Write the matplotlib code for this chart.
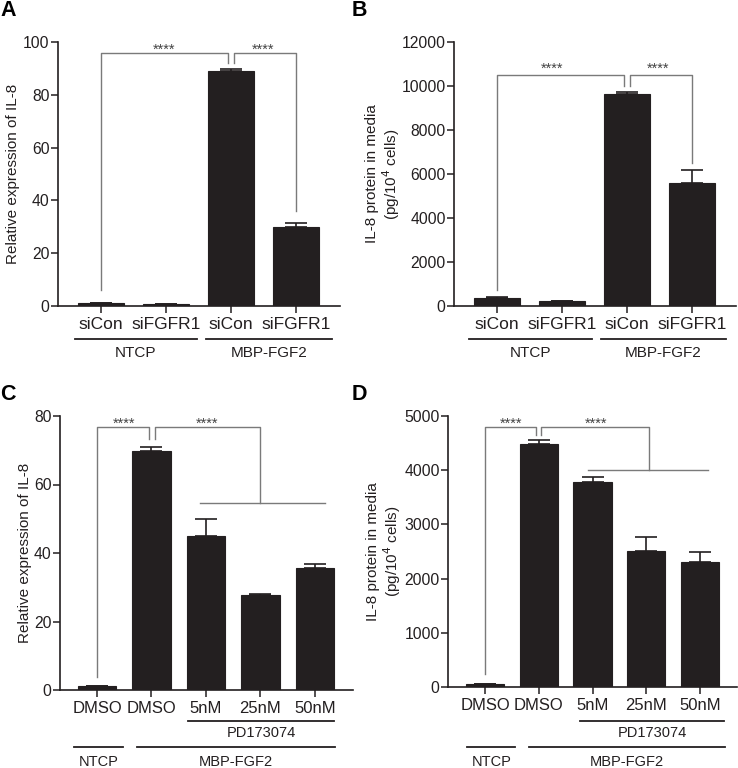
import matplotlib
matplotlib.use("Agg")
import matplotlib.pyplot as plt

plt.rcParams['font.family'] = ['Liberation Sans', 'DejaVu Sans']

# ---------------- data ----------------
a_labels = ["siCon", "siFGFR1", "siCon", "siFGFR1"]
a_values = [1.2, 0.7, 89.0, 30.0]
a_errors = [0.1, 0.1, 0.8, 1.5]

b_labels = ["siCon", "siFGFR1", "siCon", "siFGFR1"]
b_values = [380, 230, 9620, 5600]
b_errors = [10, 10, 130, 590]

c_labels = ["DMSO", "DMSO", "5nM", "25nM", "50nM"]
c_values = [1.2, 69.8, 45.0, 27.6, 35.7]
c_errors = [0.1, 1.2, 4.8, 0.3, 1.0]

d_labels = ["DMSO", "DMSO", "5nM", "25nM", "50nM"]
d_values = [55, 4480, 3775, 2515, 2305]
d_errors = [5, 85, 95, 250, 185]

a_yticks = [0, 20, 40, 60, 80, 100]
b_yticks = [0, 2000, 4000, 6000, 8000, 10000, 12000]
c_yticks = [0, 20, 40, 60, 80]
d_yticks = [0, 1000, 2000, 3000, 4000, 5000]

ylabel_ac = "Relative expression of IL-8"
ylabel_bd = "IL-8 protein in media\n(pg/10$^4$ cells)"
stars = "****"

# ---------------- style ----------------
W, H = 738, 768
BAR = "#231f20"
BR = "#7a7a7a"
fig = plt.figure(figsize=(W / 100, H / 100), dpi=100)


def mk_axes(l, r, t, b):
    return fig.add_axes([l / W, 1 - b / H, (r - l) / W, (b - t) / H])


def base(ax, labels, values, errors, yticks, xlim, ylabel, lab_x, xfs):
    x = list(range(len(values)))
    ax.bar(x, values, width=0.71, color=BAR, edgecolor=BAR, linewidth=0.8, zorder=2)
    ax.errorbar(x, values, yerr=[[0] * len(errors), errors], fmt='none',
                ecolor=BAR, elinewidth=1.2, capsize=8, capthick=1.2, zorder=1)
    ax.set_xlim(*xlim)
    ax.set_ylim(yticks[0], yticks[-1])
    ax.set_yticks(yticks)
    ax.set_xticks(x)
    ax.set_xticklabels(labels, fontsize=xfs)
    ax.tick_params(axis='y', labelsize=11.3, length=5, width=1.1, pad=1, colors='#231f20')
    ax.tick_params(axis='x', length=5, width=1.1, pad=3, colors='#231f20')
    for s in ['top', 'right']:
        ax.spines[s].set_visible(False)
    for s in ['left', 'bottom']:
        ax.spines[s].set_linewidth(1.2)
        ax.spines[s].set_color('#231f20')
    ax.set_ylabel(ylabel, fontsize=11, color='#231f20', linespacing=1.1)
    ax.yaxis.label.set_va('center')
    ax.yaxis.set_label_coords(lab_x, 0.5)


def bracket(ax, pts):
    xs, ys = zip(*pts)
    ax.plot(xs, ys, color=BR, lw=1.0, clip_on=False, zorder=3)


def glabel(ax, x0, x1, yline, ytext, text, fs=11):
    tr = ax.get_xaxis_transform()
    ax.plot([x0, x1], [yline, yline], color='#231f20', lw=1.3, transform=tr, clip_on=False)
    ax.text((x0 + x1) / 2, ytext, text, transform=tr, ha='center', va='center',
            fontsize=fs, color='#231f20')


def star(ax, x, y):
    ax.text(x, y, stars, ha='center', va='baseline', fontsize=10.5, color='#444444')


# ---------------- Panel A ----------------
axA = mk_axes(58, 340, 42, 306)
base(axA, a_labels, a_values, a_errors, a_yticks, (-0.66, 3.68), ylabel_ac, -0.16, 12.5)
bracket(axA, [(0, 6), (0, 96), (1.95, 96), (1.95, 92)])
bracket(axA, [(2.05, 92), (2.05, 96), (3, 96), (3, 36)])
star(axA, 0.98, 95.6)
star(axA, 2.5, 95.6)
glabel(axA, -0.4, 1.48, -0.125, -0.178, "NTCP")
glabel(axA, 1.62, 3.55, -0.125, -0.178, "MBP-FGF2")

# ---------------- Panel B ----------------
axB = mk_axes(454, 736, 42, 306)
base(axB, b_labels, b_values, b_errors, b_yticks, (-0.66, 3.68), ylabel_bd, -0.25, 12.5)
bracket(axB, [(0, 730), (0, 10500), (1.95, 10500), (1.95, 10000)])
bracket(axB, [(2.05, 10000), (2.05, 10500), (3, 10500), (3, 6500)])
star(axB, 0.85, 10580)
star(axB, 2.48, 10580)
glabel(axB, -0.43, 1.46, -0.125, -0.178, "NTCP")
glabel(axB, 1.6, 3.52, -0.125, -0.178, "MBP-FGF2")

# ---------------- Panel C ----------------
axC = mk_axes(60, 353, 416, 690)
base(axC, c_labels, c_values, c_errors, c_yticks, (-0.68, 4.7), ylabel_ac, -0.12, 12)
bracket(axC, [(0, 3.7), (0, 76.8), (0.95, 76.8), (0.95, 73.4)])
bracket(axC, [(1.06, 73.4), (1.06, 76.8), (3.0, 76.8), (3.0, 54.6)])
bracket(axC, [(1.89, 54.6), (4.18, 54.6)])
star(axC, 0.5, 76.6)
star(axC, 2.02, 76.6)
glabel(axC, 1.67, 4.35, -0.113, -0.157, "PD173074", fs=10.5)
glabel(axC, -0.42, 0.48, -0.208, -0.263, "NTCP", fs=10.5)
glabel(axC, 0.73, 4.37, -0.208, -0.263, "MBP-FGF2", fs=10.5)

# ---------------- Panel D ----------------
axD = mk_axes(448, 737, 416, 687)
base(axD, d_labels, d_values, d_errors, d_yticks, (-0.69, 4.69), ylabel_bd, -0.22, 12)
bracket(axD, [(0, 246), (0, 4797), (0.95, 4797), (0.95, 4643)])
bracket(axD, [(1.04, 4643), (1.04, 4797), (3.05, 4797), (3.05, 3997)])
bracket(axD, [(1.92, 3997), (4.15, 3997)])
star(axD, 0.48, 4790)
star(axD, 2.07, 4790)
glabel(axD, 1.77, 4.45, -0.125, -0.17, "PD173074", fs=10.5)
glabel(axD, -0.33, 0.56, -0.221, -0.277, "NTCP", fs=10.5)
glabel(axD, 0.82, 4.47, -0.221, -0.277, "MBP-FGF2", fs=10.5)

# ---------------- panel letters ----------------
for letter, px, py in [("A", 0, 10), ("B", 352, 10), ("C", 0, 395), ("D", 352, 395)]:
    fig.text(px / W, 1 - py / H, letter, fontsize=15.5, fontweight='bold',
             ha='left', va='center', color='black')

fig.savefig("out.png", dpi=100)
